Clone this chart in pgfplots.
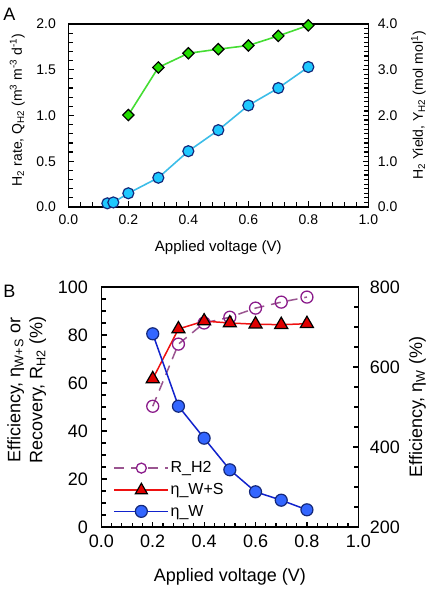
\documentclass[border=0pt]{standalone}
\usepackage{pgfplots}
\pgfplotsset{compat=1.18}
\usepackage{fontspec}
\setmainfont{Liberation Sans}
\definecolor{cyanfill}{HTML}{1EC8FF}
\definecolor{navyedge}{HTML}{14287A}
\definecolor{cyanline}{HTML}{3CBDE8}
\definecolor{greenfill}{HTML}{22DD00}
\definecolor{greenline}{HTML}{44DD33}
\definecolor{purpedge}{HTML}{8B1C8B}
\definecolor{purpline}{HTML}{9A5590}
\definecolor{cRedFill}{HTML}{E00000}
\definecolor{cRedLine}{HTML}{EE1111}
\definecolor{bluefill}{HTML}{3366FF}
\definecolor{blueline}{HTML}{1122CC}
\pgfplotsset{
  common/.style={
    scale only axis, clip=false,
    axis line style={line width=1.4pt},
    tick align=inside,
    tick style={draw=black, line width=1.2pt},
    major tick length=5.5pt, minor tick length=4.5pt,
    /pgf/number format/assume math mode=true,
  },
  onedec/.style={/pgf/number format/fixed, /pgf/number format/fixed zerofill, /pgf/number format/precision=1},
}
\begin{document}
\begin{tikzpicture}
\path (0,0) rectangle (432pt,592pt);
% ---------------- Panel A ----------------
\begin{axis}[common,
  at={(68pt,385pt)}, anchor=south west, width=300pt, height=183pt,
  xmin=0, xmax=1, ymin=0, ymax=2,
  xtick={0,0.2,0.4,0.6,0.8,1.0}, minor x tick num=4,
  ytick={0,0.5,1.0,1.5,2.0}, minor y tick num=4,
  xtick pos=left, ytick pos=left,
  ticklabel style={font=\fontsize{14}{16}\selectfont},
  xticklabel style={onedec, yshift=-4pt},
  yticklabel style={onedec, xshift=-9pt},
  every axis y label/.style={},
  xlabel={Applied voltage (V)},
  xlabel style={font=\fontsize{15}{18}\selectfont, at={(axis description cs:0.5,-0.224)}, anchor=center},
  ylabel={H\textsubscript{2} rate, Q\textsubscript{H2} (m\textsuperscript{3} m\textsuperscript{-3} d\textsuperscript{-1})},
  ylabel style={font=\fontsize{14}{17}\selectfont, at={(axis description cs:-0.17,0.53)}, anchor=center, rotate=90},
]
\addplot[cyanline, line width=1.6pt, mark=*, mark size=5.5pt,
  mark options={fill=cyanfill, draw=navyedge, line width=1.2pt}]
  coordinates {(0.13,0.04)(0.15,0.05)(0.2,0.15)(0.3,0.32)(0.4,0.61)(0.5,0.84)(0.6,1.11)(0.7,1.30)(0.8,1.53)};
\end{axis}
\begin{axis}[common,
  at={(68pt,385pt)}, anchor=south west, width=300pt, height=183pt,
  xmin=0, xmax=1, ymin=0, ymax=4,
  axis x line=none, axis y line*=right,
  ytick={0,1,2,3,4}, minor y tick num=9,
  ticklabel style={font=\fontsize{14}{16}\selectfont},
  yticklabel style={onedec, xshift=6pt},
  every axis y label/.style={},
  ylabel={H\textsubscript{2} Yield, Y\textsubscript{H2} (mol mol\textsuperscript{1})},
  ylabel style={font=\fontsize{14}{17}\selectfont, at={(axis description cs:1.167,0.555)}, anchor=center, rotate=90},
]
\addplot[greenline, line width=1.6pt, mark=square*, mark size=4pt,
  mark options={rotate=45, fill=greenfill, draw=black, line width=1.2pt}]
  coordinates {(0.2,2.01)(0.3,3.05)(0.4,3.36)(0.5,3.45)(0.6,3.53)(0.7,3.74)(0.8,3.97)};
\end{axis}
\node[font=\fontsize{18}{20}\selectfont] at (9pt,577.5pt) {A};
% ---------------- Panel B ----------------
\begin{axis}[common,
  at={(101pt,65pt)}, anchor=south west, width=257pt, height=240pt,
  xmin=0, xmax=1, ymin=0, ymax=100,
  xtick={0,0.2,0.4,0.6,0.8,1.0}, minor x tick num=4,
  ytick={0,20,40,60,80,100}, minor y tick num=3,
  xtick pos=left, ytick pos=left,
  ticklabel style={font=\fontsize{18}{20}\selectfont},
  xticklabel style={onedec, yshift=-4pt},
  yticklabel style={xshift=-10pt},
  every axis y label/.style={},
  xlabel={Applied voltage (V)},
  xlabel style={font=\fontsize{18}{21}\selectfont, at={(axis description cs:0.5,-0.208)}, anchor=center},
  ylabel={Efficiency, η\textsubscript{W+S} or\\Recovery, R\textsubscript{H2} (\%)},
  ylabel style={font=\fontsize{18}{22}\selectfont, align=center, at={(axis description cs:-0.29,0.57)}, anchor=center, rotate=90},
  legend cell align=left,
  legend style={at={(axis description cs:0.047,0.032)}, anchor=south west, draw=none, fill=none,
    font=\fontsize{16}{18}\selectfont, row sep=6pt, inner sep=0pt,
    nodes={inner sep=1.5pt}},
]
\addplot[purpline, line width=1.5pt, dash pattern=on 10pt off 7pt, mark=o, mark size=6pt,
  mark options={solid, draw=purpedge, fill=white, line width=1.3pt}, forget plot]
  coordinates {(0.2,50.3)(0.3,76.2)(0.4,85)(0.5,87.4)(0.6,91.2)(0.7,93.7)(0.8,95.8)};
\addplot[color=cRedLine, line width=1.5pt, mark=triangle*, mark size=7.5pt,
  mark options={fill=cRedFill, draw=black, line width=1.2pt}, forget plot]
  coordinates {(0.2,61.7)(0.3,82.5)(0.4,85.8)(0.5,85)(0.6,84.5)(0.7,84.3)(0.8,84.7)};
\addlegendimage{legend image code/.code={
  \draw[draw=purpline, line width=1.5pt, dash pattern=on 10pt off 7pt] (0pt,0pt) -- (54pt,0pt);
  \draw[draw=purpedge, fill=white, line width=1.3pt] (27pt,0pt) circle (5pt);}}
\addlegendentry{R\_H2}
\addlegendimage{legend image code/.code={
  \draw[draw=cRedLine, line width=1.5pt] (0pt,0pt) -- (54pt,0pt);
  \draw[draw=black, fill=cRedFill, line width=1.2pt] (27pt,6.5pt) -- (33pt,-4pt) -- (21pt,-4pt) -- cycle;}}
\addlegendentry{η\_W+S}
\addlegendimage{legend image code/.code={
  \draw[draw=blueline, line width=1.5pt] (0pt,0pt) -- (54pt,0pt);
  \draw[draw=navyedge, fill=bluefill, line width=1.2pt] (27pt,0pt) circle (6pt);}}
\addlegendentry{η\_W}
\end{axis}
\begin{axis}[common,
  at={(101pt,65pt)}, anchor=south west, width=257pt, height=240pt,
  xmin=0, xmax=1, ymin=200, ymax=800,
  axis x line=none, axis y line*=right,
  ytick={200,400,600,800}, minor y tick num=3,
  ticklabel style={font=\fontsize{18}{20}\selectfont},
  yticklabel style={xshift=8pt},
  every axis y label/.style={},
  ylabel={Efficiency, η\textsubscript{W} (\%)},
  ylabel style={font=\fontsize{18}{22}\selectfont, at={(axis description cs:1.23,0.5)}, anchor=center, rotate=90},
]
\addplot[blueline, line width=1.5pt, mark=*, mark size=6pt,
  mark options={fill=bluefill, draw=navyedge, line width=1.2pt}]
  coordinates {(0.2,683)(0.3,502)(0.4,422)(0.5,343)(0.6,288)(0.7,267)(0.8,243)};
\end{axis}
\node[font=\fontsize{18}{20}\selectfont] at (9pt,301pt) {B};
\end{tikzpicture}
\end{document}
